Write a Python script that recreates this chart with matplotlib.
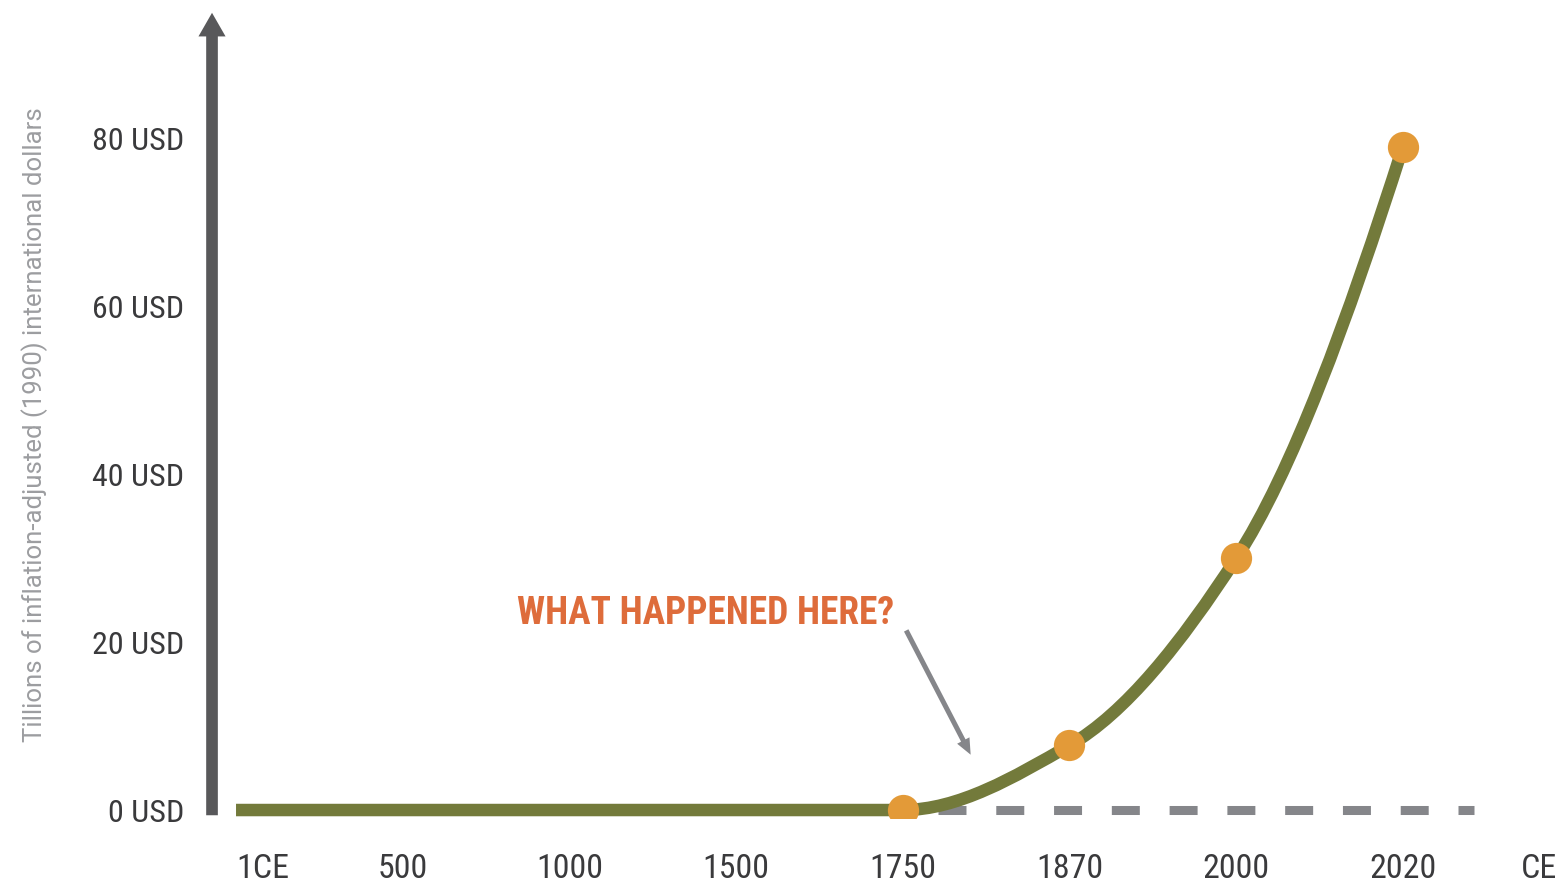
import numpy as np
import matplotlib
matplotlib.use("Agg")
from matplotlib import pyplot as plt
from matplotlib import font_manager
from matplotlib.path import Path
from matplotlib.patches import PathPatch, FancyArrowPatch


# world GDP, trillions of 1990 international dollars
periods = ["1CE", "500", "1000", "1500", "1750", "1870", "2000", "2020"]
gdp = [0, 0, 0, 0, 0, 7.7, 30, 79]
first_marked = 4  # dots from 1750 onwards
y_ticks = [0, 20, 40, 60, 80]
y_tick_labels = ["0 USD", "20 USD", "40 USD", "60 USD", "80 USD"]

green = "#737a3b"
orange = "#e39a38"
axis_grey = "#58585a"
dash_grey = "#85868a"
text_dark = "#3a3a3c"

names = {f.name for f in font_manager.fontManager.ttflist}
narrow = "Roboto"
for fam in ["Roboto Condensed", "Barlow Semi Condensed", "Archivo Narrow",
            "PT Sans Narrow", "Liberation Sans Narrow"]:
    if fam in names:
        narrow = fam
        break
plt.rcParams["font.family"] = [narrow, "DejaVu Sans"]

fig = plt.figure(figsize=(15.67, 8.88), dpi=100)
ax = fig.add_axes([0.1353, 0.0788, 0.8647, 0.9099])
ax.set_xlim(-0.144, 7.985)
ax.set_ylim(-0.954, 95.35)
for s in ax.spines.values():
    s.set_visible(False)

x = np.arange(len(periods), dtype=float)
y = np.array(gdp, dtype=float)

# monotone cubic (pchip) slopes for the rising part, drawn as bezier segments
xs = x[first_marked:]
ys = y[first_marked:]
h = np.diff(xs)
d = np.diff(ys) / h
m = np.zeros_like(ys)
for i in range(1, len(ys) - 1):
    if d[i - 1] * d[i] > 0:
        m[i] = 2 / (1 / d[i - 1] + 1 / d[i])
m[-1] = ((2 * h[-1] + h[-2]) * d[-1] - h[-1] * d[-2]) / (h[-1] + h[-2])

verts = [(x[0], y[0]), (xs[0], ys[0])]
codes = [Path.MOVETO, Path.LINETO]
for i in range(len(xs) - 1):
    verts += [(xs[i] + h[i] / 3, ys[i] + m[i] * h[i] / 3),
              (xs[i + 1] - h[i] / 3, ys[i + 1] - m[i + 1] * h[i] / 3),
              (xs[i + 1], ys[i + 1])]
    codes += [Path.CURVE4] * 3

# baseline continuing at zero
ax.plot([xs[0] + 0.21, 7.43], [0, 0], color=dash_grey, lw=6.5,
        dashes=(3.1, 3.3), solid_capstyle="butt", dash_capstyle="butt", zorder=1)

ax.add_patch(PathPatch(Path(verts, codes), facecolor="none", edgecolor=green,
                       lw=9, capstyle="butt", zorder=2))
ax.plot(xs, ys, "o", color=orange, markersize=22.5, markeredgewidth=0, zorder=3)

# vertical axis drawn as an arrow
ax.add_patch(FancyArrowPatch((0, 0), (0, 1), transform=ax.transAxes,
                             arrowstyle="simple,head_length=17,head_width=19.5,tail_width=8.4",
                             mutation_scale=1, color=axis_grey, lw=0,
                             clip_on=False, zorder=4))

ax.set_yticks(y_ticks)
ax.set_yticklabels(y_tick_labels)
ax.set_xticks(list(x) + [7.82])
ax.set_xticklabels(periods + ["CE"])
ax.tick_params(axis="both", length=0, colors=text_dark)
ax.tick_params(axis="y", labelsize=23, pad=20)
ax.tick_params(axis="x", labelsize=24.5, pad=25)
ax.get_xticklabels()[0].set_horizontalalignment("left")

ax.text(1.686, 23.4, "WHAT HAPPENED HERE?", color="#de6c3b", fontsize=27,
        fontweight="bold", ha="left", va="center")
ax.add_patch(FancyArrowPatch((4.013, 21.7), (4.415, 6.3),
                             arrowstyle="simple,head_length=11.5,head_width=10,tail_width=3.6",
                             mutation_scale=1, color=dash_grey, lw=0, zorder=4))

fig.text(35 / 1567, 1 - 425 / 888,
         "Tillions of inflation-adjusted (1990) international dollars",
         rotation=90, ha="center", va="center", color="#9c9da0", fontsize=18.5,
         family=["Roboto", "DejaVu Sans"], fontweight="normal")

fig.savefig("out.png", dpi=100)
